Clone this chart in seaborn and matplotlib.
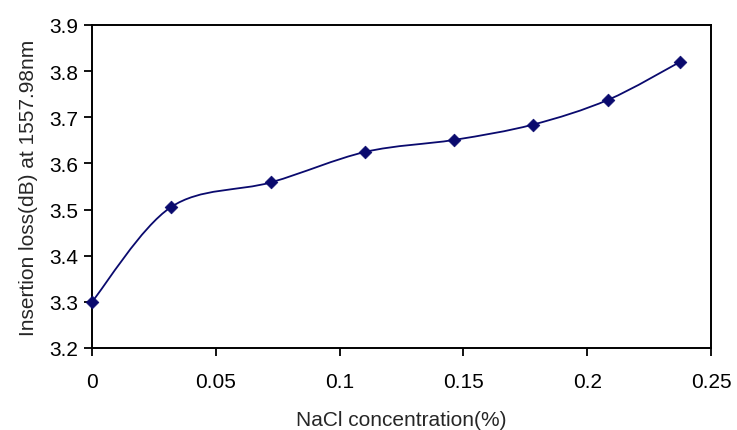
import matplotlib
matplotlib.use("Agg")
import matplotlib.pyplot as plt
from matplotlib.path import Path
from matplotlib.patches import PathPatch
import seaborn as sns
import pandas as pd

# Data
nacl_concentration = [0.0, 0.0318, 0.0723, 0.1104, 0.1463, 0.1780, 0.2085, 0.2375]
insertion_loss = [3.300, 3.505, 3.559, 3.625, 3.651, 3.684, 3.738, 3.820]
x_ticks = [0, 0.05, 0.1, 0.15, 0.2, 0.25]
x_tick_labels = ["0", "0.05", "0.1", "0.15", "0.2", "0.25"]
y_ticks = [3.2, 3.3, 3.4, 3.5, 3.6, 3.7, 3.8, 3.9]
y_tick_labels = ["3.2", "3.3", "3.4", "3.5", "3.6", "3.7", "3.8", "3.9"]
x_label = "NaCl concentration(%)"
y_label = "Insertion loss(dB) at 1557.98nm"

df = pd.DataFrame({"x": nacl_concentration, "y": insertion_loss})

sns.set_style("ticks")
plt.rcParams["font.family"] = ["Liberation Sans", "DejaVu Sans"]

navy = "#0a0a6e"
fs = 15

fig = plt.figure(figsize=(7.37, 4.31), dpi=100)
ax = fig.add_axes([92 / 737, 1 - 349 / 431, (711 - 92) / 737, (349 - 26) / 431])

# Smoothed (Excel-like Catmull-Rom Bezier) line through the data points
pts = list(zip(df["x"], df["y"]))
verts = [pts[0]]
codes = [Path.MOVETO]
n = len(pts)
for i in range(n - 1):
    p0 = pts[i - 1] if i > 0 else pts[i]
    p1 = pts[i]
    p2 = pts[i + 1]
    p3 = pts[i + 2] if i + 2 < n else pts[i + 1]
    c1 = (p1[0] + (p2[0] - p0[0]) / 6, p1[1] + (p2[1] - p0[1]) / 6)
    c2 = (p2[0] - (p3[0] - p1[0]) / 6, p2[1] - (p3[1] - p1[1]) / 6)
    verts += [c1, c2, p2]
    codes += [Path.CURVE4, Path.CURVE4, Path.CURVE4]
ax.add_patch(PathPatch(Path(verts, codes), facecolor="none", edgecolor=navy,
                       lw=1.3, transform=ax.transData, zorder=2))

sns.scatterplot(data=df, x="x", y="y", marker="D", s=42, color=navy,
                edgecolor=navy, linewidth=0.5, ax=ax, zorder=3, clip_on=False)

ax.set_xlim(0, 0.25)
ax.set_ylim(3.2, 3.9)
ax.set_xticks(x_ticks)
ax.set_xticklabels(x_tick_labels)
ax.set_yticks(y_ticks)
ax.set_yticklabels(y_tick_labels)
ax.tick_params(axis="both", direction="out", length=6, width=1.3, labelsize=fs,
               colors="black", pad=4)
ax.tick_params(axis="x", pad=11)
for sp in ax.spines.values():
    sp.set_visible(True)
    sp.set_linewidth(1.4)
    sp.set_color("black")

ax.set_xlabel(x_label, fontsize=fs, labelpad=14)
ax.set_ylabel(y_label, fontsize=fs, labelpad=8)

fig.savefig("out.png", dpi=100, facecolor="white")
